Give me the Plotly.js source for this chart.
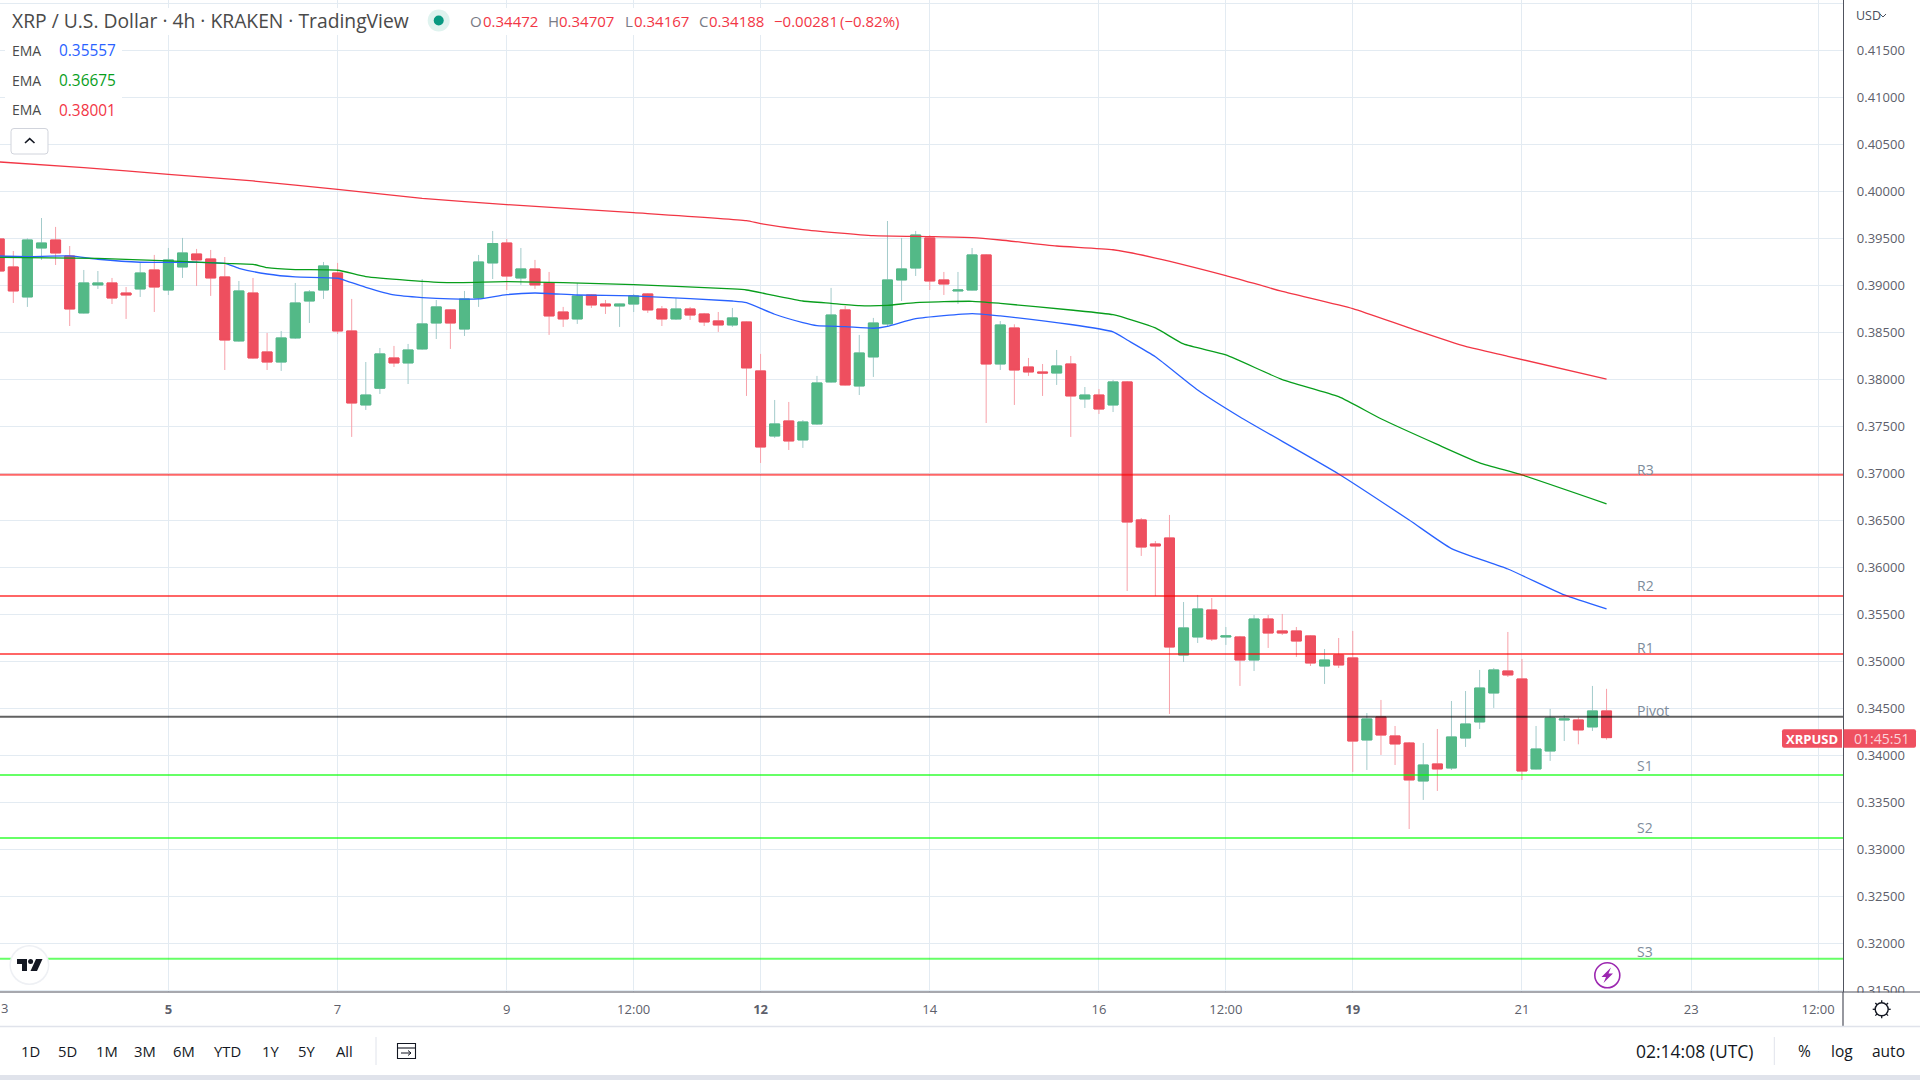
<!DOCTYPE html>
<html><head><meta charset="utf-8">
<script src="https://cdn.plot.ly/plotly-3.0.1.min.js"></script>
<style>html,body{margin:0;padding:0;background:#fff}#c{width:1920px;height:1080px}</style>
</head><body><div id="c"></div>
<script>
// ---- chart values (prices) ----
const open=[.39493,.39195,.38876,.39397,.39482,.39312,.38706,.39004,.39025,.38918,.38961,.39163,.3895,.39195,.39333,.3928,.39089,.38408,.38918,.38291,.38184,.3844,.38833,.3895,.39131,.38514,.37727,.37905,.38227,.38174,.38323,.38599,.38738,.38535,.38865,.39238,.3945,.39078,.39174,.39025,.38716,.38642,.38897,.38801,.3878,.38801,.38908,.38748,.38642,.38748,.38695,.38621,.38578,.3861,.38089,.37397,.37557,.37355,.37525,.37972,.38738,.37929,.38238,.38589,.39057,.39184,.39504,.39057,.3894,.3895,.39323,.38163,.38546,.38131,.38078,.38067,.38163,.37791,.37833,.37727,.37972,.36504,.36248,.36312,.35067,.35259,.35546,.35259,.35259,.35014,.3545,.35323,.35323,.3527,.3495,.35067,.35036,.34163,.34408,.34206,.34131,.33727,.33908,.33865,.34184,.34355,.34663,.34897,.34812,.33855,.34046,.34376,.34376,.34302,.34472];
const high=[.39553,.39365,.395,.39716,.39621,.39418,.39163,.39152,.39078,.38982,.39248,.39323,.39397,.39504,.39387,.39376,.39301,.39046,.39078,.38493,.38514,.39025,.3895,.39248,.39238,.38855,.38184,.38333,.38355,.38376,.39067,.38844,.38745,.3894,.39323,.39578,.39493,.39397,.3927,.39142,.3877,.39025,.38905,.38844,.38805,.38908,.38915,.3878,.38865,.3877,.38706,.38716,.38759,.38615,.3827,.3778,.37759,.37567,.38036,.38972,.3878,.38472,.38653,.39684,.39504,.39578,.39535,.39142,.39142,.39397,.3933,.3862,.38585,.38227,.38163,.38312,.38248,.37918,.37897,.37993,.37982,.36525,.3628,.36557,.35631,.35706,.35674,.35365,.3527,.35493,.35493,.35504,.35365,.35278,.35131,.35248,.35323,.3445,.34589,.34312,.34142,.34131,.3428,.34578,.34684,.34908,.34929,.35312,.35025,.34312,.34493,.34429,.34404,.34738,.34707];
const low=[.39092,.38812,.3877,.3927,.39216,.38567,.387,.38961,.38801,.38642,.38876,.38716,.38897,.39078,.38993,.38887,.38099,.384,.3822,.38099,.38089,.3843,.38599,.38855,.38482,.37387,.37674,.37844,.38131,.3795,.38315,.38429,.38323,.38461,.3877,.39067,.3895,.39004,.38961,.38472,.38557,.38589,.38759,.38695,.38557,.38716,.38706,.38567,.38631,.38631,.38567,.38504,.38557,.37823,.3711,.37376,.37248,.3727,.37515,.37965,.37935,.37833,.38025,.38557,.38833,.39099,.3895,.38897,.38801,.38945,.37535,.38099,.37727,.38036,.37823,.3794,.37387,.37695,.37631,.37652,.35748,.36121,.35695,.3444,.34993,.35195,.35216,.35174,.34738,.34897,.35142,.3528,.35046,.3495,.34759,.34929,.33823,.33844,.34004,.33897,.33216,.33525,.33621,.33844,.34089,.3428,.34504,.34833,.33738,.3385,.3394,.34152,.34117,.34259,.34167];
const close=[.39152,.3894,.39482,.3945,.39344,.38748,.39025,.39025,.38865,.38897,.39131,.38982,.3927,.39344,.3927,.39078,.38418,.3894,.38227,.38184,.3844,.38812,.38929,.39206,.38514,.37748,.37833,.3827,.38174,.38312,.38589,.3877,.38599,.38855,.39248,.39444,.39099,.39174,.39004,.38674,.38642,.38887,.38791,.3878,.38801,.38887,.38738,.38642,.38748,.38684,.3861,.38578,.38653,.38121,.3728,.37525,.37344,.37546,.37961,.38684,.3794,.3828,.38599,.39057,.39174,.39535,.39046,.39014,.3895,.39323,.38163,.38578,.38099,.38078,.38067,.38142,.37823,.37833,.37684,.37972,.36482,.36216,.36227,.35152,.35355,.35557,.35238,.3527,.35014,.3545,.35301,.35301,.35216,.34982,.35014,.34961,.34152,.34387,.34216,.34121,.33738,.33897,.33855,.34195,.34333,.34716,.34908,.34855,.33833,.34067,.34397,.34387,.3427,.34472,.34188];
const barIndex=open.map((_,k)=>k-1);

const emaRedX=[-1,5,11,17,23,29,35,44,52,53,56,61,65,68,70,74,78,81,86,90,95,99,103,106,113];
const emaRedY=[.40312,.40252,.40181,.4011,.40021,.39925,.39858,.39773,.39688,.39656,.39592,.39528,.39518,.39507,.39482,.39418,.39378,.3929,.39104,.38935,.38752,.38546,.38349,.38245,.38001];
const emaGreenX=[-1,6,11,15,17,18,20,23,25,28,31,35,39,44,51,52,54,56,58,60,62,64,68,70,75,78,81,83,86,90,94,97,101,104,107,113];
const emaGreenY=[.39298,.39287,.39259,.39234,.39223,.39188,.39167,.3916,.39092,.39053,.39028,.39039,.39028,.39007,.38961,.3895,.3889,.38833,.38808,.38784,.38787,.38816,.3883,.38808,.38737,.38687,.38546,.38376,.38259,.37997,.37815,.3758,.37307,.37111,.36982,.36675];
const emaBlueX=[-1,1,4,6,9,13,15,16,18,20,23,24,25,27,29,31,33,35,37,40,44,45,51,52,54,56,57,59,61,62,64,68,70,75,78,79,81,84,87,94,99,102,106,110,113];
const emaBlueY=[.39312,.39305,.39312,.39277,.39245,.39245,.39234,.39181,.3912,.39089,.39075,.39028,.38979,.38897,.38869,.38855,.38855,.38901,.38918,.38897,.38887,.3888,.38833,.38816,.38692,.38603,.38571,.3856,.38543,.38564,.38645,.38699,.38674,.38583,.38505,.38418,.3824,.37886,.37599,.36993,.36503,.36199,.35982,.35706,.35557];

const pivotNames=['R3','R2','R1','Pivot','S1','S2','S3'];
const pivotValues=[.36985,.35695,.35078,.34411,.33791,.3312,.31836];
const pivotColors=['rgba(255,0,0,.6)','rgba(255,0,0,.6)','rgba(255,0,0,.6)','rgba(0,0,0,.62)','rgba(0,255,0,.6)','rgba(0,255,0,.6)','rgba(0,255,0,.6)'];

const priceTicks=[.315,.32,.325,.33,.335,.34,.345,.35,.355,.36,.365,.37,.375,.38,.385,.39,.395,.4,.405,.41,.415,.42];
const priceTickText=['0.31500','0.32000','0.32500','0.33000','0.33500','0.34000','0.34500','0.35000','0.35500','0.36000','0.36500','0.37000','0.37500','0.38000','0.38500','0.39000','0.39500','0.40000','0.40500','0.41000','0.41500',''];
const timeTicks=[11,23,35,44,53,65,77,86,95,107,119,128];
const timeTickText=['<b>5</b>','7','9','12:00','<b>12</b>','14','16','12:00','<b>19</b>','21','23','12:00'];
const ranges=['1D','5D','1M','3M','6M','YTD','1Y','5Y','All'];
const rangeCenters=[30.6,67,106.5,144.5,183.7,227.8,270.6,306,344];

// ---- styling / helpers ----
const W=1843,H=992,F='"Open Sans"';
const fx=x=>x/W, fy=y=>(H-y)/H;
const RED='#f23645',DARK='#131722',GREY='#787b86';
function P(s){let n=0;return s.replace(/-?\d+(\.\d+)?/g,m=>{const v=+m;const r=(n%2===0)?fx(v):fy(v);n++;return r.toFixed(6);});}
function pathS(d,o){return Object.assign({type:'path',xref:'paper',yref:'paper',path:P(d),layer:'above',line:{width:0}},o);}
function rectS(x0,y0,x1,y1,fill,layer){return {type:'rect',xref:'paper',yref:'paper',x0:fx(x0),x1:fx(x1),y0:fy(y0),y1:fy(y1),fillcolor:fill,line:{width:0},layer:layer||'above'};}
function lineS(x0,y0,x1,y1,c,w){return {type:'line',xref:'paper',yref:'paper',x0:fx(x0),x1:fx(x1),y0:fy(y0),y1:fy(y1),line:{color:c,width:w},layer:'above'};}
function circS(cx,cy,r,fill,lc,lw){return {type:'circle',xref:'paper',yref:'paper',x0:fx(cx-r),x1:fx(cx+r),y0:fy(cy+r),y1:fy(cy-r),fillcolor:fill,line:{color:lc||fill,width:lw||0},layer:'above'};}
function T(text,x,y,size,color,anchor,extra){return Object.assign({text,xref:'paper',yref:'paper',x:fx(x),y:fy(y),xanchor:anchor||'left',yanchor:'middle',showarrow:false,font:{family:F,size,color},borderpad:0},extra||{});}

const topIdx=barIndex.map((_,k)=>Math.max(open[k],close[k]));
const botIdx=barIndex.map((_,k)=>Math.min(open[k],close[k]));
const WICKR='#f7a1a9',WICKG='#a3cbcb',BODYR='#ee4f5f',BODYG='#53b987';
const EMA_LINE=w=>({width:w,shape:'spline',smoothing:0.5});

const traces=[
 {type:'candlestick',name:'XRPUSD wicks',x:barIndex,open,high,low,close,whiskerwidth:0,hoverinfo:'skip',
  increasing:{line:{color:WICKG,width:1},fillcolor:WICKG},decreasing:{line:{color:WICKR,width:1},fillcolor:WICKR}},
 {type:'candlestick',name:'XRPUSD',x:barIndex,open,close,high:topIdx,low:botIdx,whiskerwidth:0,hoverinfo:'skip',
  increasing:{line:{color:BODYG,width:1},fillcolor:BODYG},decreasing:{line:{color:BODYR,width:1},fillcolor:BODYR}},
 {type:'scatter',mode:'lines',name:'EMA blue',x:emaBlueX,y:emaBlueY,line:Object.assign(EMA_LINE(1.3),{color:'#2962ff'}),hoverinfo:'skip'},
 {type:'scatter',mode:'lines',name:'EMA green',x:emaGreenX,y:emaGreenY,line:Object.assign(EMA_LINE(1.3),{color:'#089e1c'}),hoverinfo:'skip'},
 {type:'scatter',mode:'lines',name:'EMA red',x:emaRedX,y:emaRedY,line:Object.assign(EMA_LINE(1.3),{color:RED}),hoverinfo:'skip'}
];
pivotNames.forEach((n,k)=>traces.push({type:'scatter',mode:'lines',name:n,x:[-1,131],y:[pivotValues[k],pivotValues[k]],line:{color:pivotColors[k],width:2},hoverinfo:'skip'}));

const pivotShift=[5,10.5,6,6,9,11,7];
const annotations=[];
pivotNames.forEach((n,k)=>annotations.push({text:n,xref:'x',yref:'y',x:115.1,y:pivotValues[k],xanchor:'left',yanchor:'middle',yshift:pivotShift[k],showarrow:false,borderpad:0,font:{family:F,size:14,color:'#7e8c9b'}}));
annotations.push(
 T('XRP / U.S. Dollar · 4h · KRAKEN · TradingView',11,20.5,19.3,'#4a4a4a'),
 T('O',469,21,15,GREY),T('0.34472',482,21,15,RED),
 T('H',547,21,15,GREY),T('0.34707',558,21,15,RED),
 T('L',624,21,15,GREY),T('0.34167',633,21,15,RED),
 T('C',698,21,15,GREY),T('0.34188',708,21,15,RED),
 T('−0.00281',773,21,15,RED),T('(−0.82%)',839,21,15,RED),
 T('EMA',11,50,14,'#4a4a4a'),T('0.35557',58,50,15.4,'#2962ff'),
 T('EMA',11,80.5,14,'#4a4a4a'),T('0.36675',58,80.5,15.4,'#089e1c'),
 T('EMA',11,110,14,'#4a4a4a'),T('0.38001',58,110.5,15.4,RED),
 T('USD',1854.5,15.5,12.5,'#4a4f5c'),
 T('3',0,1007.5,13,'#5d606b','left'),
 T('<b>XRPUSD</b>',1811.5,739,13,'#fff','center'),
 T('01:45:51',1881.5,739,14,'#fbd3d8','center'),
 T('02:14:08 (UTC)',1694.5,1050.5,17.5,DARK,'center'),
 T('%',1804,1050.5,15.5,DARK,'center'),
 T('log',1842,1050.5,15.5,DARK,'center'),
 T('auto',1888.7,1050.5,15.5,DARK,'center')
);
ranges.forEach((r,k)=>annotations.push(T(r,rangeCenters[k],1050.5,14.8,DARK,'center')));

const shapes=[
 rectS(5,8,915,35,'#ffffff','above'),
 rectS(5,38,122,122,'#ffffff','above'),
 pathS('M14 128.5 L45 128.5 Q48 128.5 48 131.5 L48 151 Q48 154 45 154 L14 154 Q11 154 11 151 L11 131.5 Q11 128.5 14 128.5 Z',{fillcolor:'#fff',line:{color:'#d1d4dc',width:1}}),
 pathS('M25 143 L29.7 138.7 L34.5 143',{line:{color:DARK,width:1.6}}),
 circS(438.7,20.5,11,'#dff3ef'),circS(438.7,20.5,5,'#089981'),
 rectS(1844,992.5,1920,1026,'#ffffff'),
 lineS(0,992,1920,992,'#50535e',1.2),
 lineS(1843,992,1843,1026,'#50535e',1.2),
 lineS(0,1026.5,1920,1026.5,'#e0e3eb',1.5),
 rectS(0,1075,1920,1080,'#e0e3eb'),
 lineS(376,1037,376,1065,'#e0e3eb',1),
 lineS(1774.3,1037,1774.3,1065,'#e0e3eb',1),
 pathS('M1880 14 L1883 17 L1886 14',{line:{color:'#4a4f5c',width:1}}),
 pathS('M1784 729.3 L1842 729.3 L1842 747.7 L1784 747.7 Q1782 747.7 1782 745.7 L1782 731.3 Q1782 729.3 1784 729.3 Z',{fillcolor:'#ef5060'}),
 pathS('M1843.5 729.3 L1914 729.3 Q1916 729.3 1916 731.3 L1916 745.7 Q1916 747.7 1914 747.7 L1843.5 747.7 Z',{fillcolor:'#ef5060'}),
 circS(1607.3,975.3,12.5,'#ffffff','#9c27b0',1.6),
 pathS('M1611 967.5 L1601.5 977 L1606 977 L1603.5 983 L1613 973.5 L1608.5 973.5 Z',{fillcolor:'#9c27b0'}),
 circS(29.4,965,20,'#eef0f4'),circS(29.4,965,18.5,'#ffffff'),
 pathS('M17 959 L27 959 L27 971 L22 971 L22 964 L17 964 Z',{fillcolor:DARK}),
 circS(30.6,961.5,2.5,DARK),
 pathS('M36 959 L42.5 959 L37 971 L30.5 971 Z',{fillcolor:DARK}),
 circS(1881.7,1009.3,6.5,'#ffffff',DARK,1.4),
 pathS('M397.5 1043.5 L415.5 1043.5 L415.5 1058.5 L397.5 1058.5 Z',{line:{color:DARK,width:1.1}}),
 lineS(397.5,1048,415.5,1048,DARK,1.1),
 pathS('M401 1053 L411 1053 M408 1050.5 L411 1053 L408 1055.5',{line:{color:DARK,width:1}})
];
for(const [a,b] of [[1881.7,999.7],[1881.7,1018.9],[1872.1,1009.3],[1891.3,1009.3],[1875,1002.6],[1888.4,1002.6],[1875,1016],[1888.4,1016]]){
  const cx=1881.7,cy=1009.3,dx=a-cx,dy=b-cy,l=Math.hypot(dx,dy);
  shapes.push(lineS(cx+dx/l*6.5,cy+dy/l*6.5,cx+dx/l*9,cy+dy/l*9,DARK,1.3));
}

const layout={
 width:1920,height:1080,margin:{l:0,r:77,t:0,b:88,pad:0},paper_bgcolor:'#fff',plot_bgcolor:'#fff',
 showlegend:false,boxgap:0.29,boxgroupgap:0,boxmode:'overlay',dragmode:false,hovermode:false,
 xaxis:{type:'linear',range:[-0.943,129.77],rangeslider:{visible:false},tickmode:'array',tickvals:timeTicks,ticktext:timeTickText,
   showgrid:true,gridcolor:'#e3ebf2',gridwidth:1,zeroline:false,showline:false,ticks:'outside',ticklen:5,tickcolor:'rgba(0,0,0,0)',
   tickfont:{family:F,size:13,color:'#5d606b'},fixedrange:true},
 yaxis:{side:'right',type:'linear',range:[0.31482,0.42035],tickmode:'array',tickvals:priceTicks,ticktext:priceTickText,
   showgrid:true,gridcolor:'#e3ebf2',gridwidth:1,zeroline:false,showline:true,linecolor:'#50535e',linewidth:1.2,ticks:'outside',ticklen:10,tickcolor:'rgba(0,0,0,0)',
   tickfont:{family:F,size:13,color:'#5d606b'},fixedrange:true},
 shapes,annotations
};
Plotly.newPlot('c',traces,layout,{displayModeBar:false,staticPlot:true});
</script></body></html>
